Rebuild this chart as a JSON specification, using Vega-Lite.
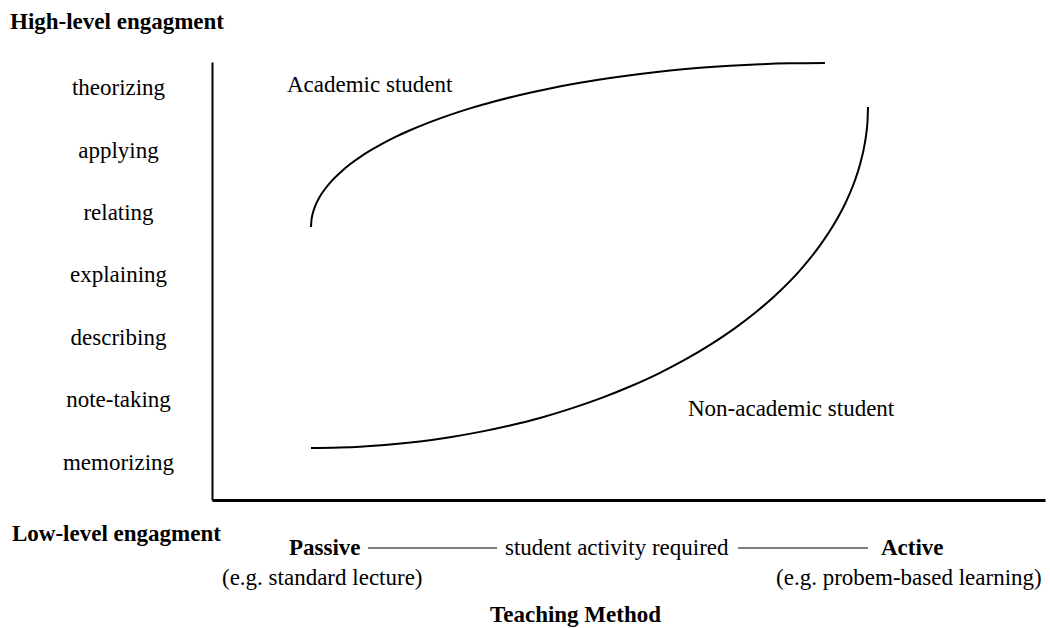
{
  "$schema": "https://vega.github.io/schema/vega-lite/v6.json",
  "width": 833,
  "height": 438,
  "autosize": {"type": "none"},
  "padding": {"left": 212, "top": 62, "right": 5, "bottom": 128},
  "background": "white",
  "config": {"view": {"stroke": null}, "font": "Liberation Serif"},
  "datasets": {
    "curves": [
      {"student": "Academic", "activity": 11.885, "engagement": 4.770},
      {"student": "Academic", "activity": 11.945, "engagement": 4.886},
      {"student": "Academic", "activity": 12.005, "engagement": 4.934},
      {"student": "Academic", "activity": 12.125, "engagement": 5.002},
      {"student": "Academic", "activity": 12.365, "engagement": 5.098},
      {"student": "Academic", "activity": 12.725, "engagement": 5.203},
      {"student": "Academic", "activity": 13.085, "engagement": 5.287},
      {"student": "Academic", "activity": 13.565, "engagement": 5.380},
      {"student": "Academic", "activity": 14.166, "engagement": 5.479},
      {"student": "Academic", "activity": 14.766, "engagement": 5.564},
      {"student": "Academic", "activity": 15.606, "engagement": 5.670},
      {"student": "Academic", "activity": 16.567, "engagement": 5.776},
      {"student": "Academic", "activity": 17.767, "engagement": 5.891},
      {"student": "Academic", "activity": 18.968, "engagement": 5.994},
      {"student": "Academic", "activity": 20.408, "engagement": 6.104},
      {"student": "Academic", "activity": 21.969, "engagement": 6.211},
      {"student": "Academic", "activity": 23.770, "engagement": 6.322},
      {"student": "Academic", "activity": 26.170, "engagement": 6.453},
      {"student": "Academic", "activity": 28.571, "engagement": 6.569},
      {"student": "Academic", "activity": 30.972, "engagement": 6.673},
      {"student": "Academic", "activity": 33.974, "engagement": 6.787},
      {"student": "Academic", "activity": 36.975, "engagement": 6.888},
      {"student": "Academic", "activity": 40.576, "engagement": 6.993},
      {"student": "Academic", "activity": 44.178, "engagement": 7.083},
      {"student": "Academic", "activity": 47.779, "engagement": 7.160},
      {"student": "Academic", "activity": 51.381, "engagement": 7.225},
      {"student": "Academic", "activity": 54.982, "engagement": 7.279},
      {"student": "Academic", "activity": 58.583, "engagement": 7.323},
      {"student": "Academic", "activity": 62.185, "engagement": 7.356},
      {"student": "Academic", "activity": 65.786, "engagement": 7.380},
      {"student": "Academic", "activity": 69.388, "engagement": 7.395},
      {"student": "Academic", "activity": 73.589, "engagement": 7.401},
      {"student": "Non-academic", "activity": 11.885, "engagement": 1.225},
      {"student": "Non-academic", "activity": 17.767, "engagement": 1.245},
      {"student": "Non-academic", "activity": 21.369, "engagement": 1.280},
      {"student": "Non-academic", "activity": 24.970, "engagement": 1.330},
      {"student": "Non-academic", "activity": 28.571, "engagement": 1.398},
      {"student": "Non-academic", "activity": 32.173, "engagement": 1.483},
      {"student": "Non-academic", "activity": 35.774, "engagement": 1.586},
      {"student": "Non-academic", "activity": 39.376, "engagement": 1.707},
      {"student": "Non-academic", "activity": 42.977, "engagement": 1.852},
      {"student": "Non-academic", "activity": 46.939, "engagement": 2.036},
      {"student": "Non-academic", "activity": 50.180, "engagement": 2.211},
      {"student": "Non-academic", "activity": 53.782, "engagement": 2.431},
      {"student": "Non-academic", "activity": 56.783, "engagement": 2.641},
      {"student": "Non-academic", "activity": 59.784, "engagement": 2.879},
      {"student": "Non-academic", "activity": 62.785, "engagement": 3.148},
      {"student": "Non-academic", "activity": 65.426, "engagement": 3.418},
      {"student": "Non-academic", "activity": 68.187, "engagement": 3.744},
      {"student": "Non-academic", "activity": 70.588, "engagement": 4.075},
      {"student": "Non-academic", "activity": 72.989, "engagement": 4.474},
      {"student": "Non-academic", "activity": 74.790, "engagement": 4.841},
      {"student": "Non-academic", "activity": 75.990, "engagement": 5.139},
      {"student": "Non-academic", "activity": 76.591, "engagement": 5.316},
      {"student": "Non-academic", "activity": 77.191, "engagement": 5.520},
      {"student": "Non-academic", "activity": 77.791, "engagement": 5.771},
      {"student": "Non-academic", "activity": 78.391, "engagement": 6.127},
      {"student": "Non-academic", "activity": 78.511, "engagement": 6.232},
      {"student": "Non-academic", "activity": 78.631, "engagement": 6.368},
      {"student": "Non-academic", "activity": 78.691, "engagement": 6.463},
      {"student": "Non-academic", "activity": 78.751, "engagement": 6.695}
    ],
    "notes": [
      {"label": "Academic student", "role": "note", "activity": 9.00, "engagement": 7.048},
      {"label": "Non-academic student", "role": "note", "activity": 57.14, "engagement": 1.850},
      {"label": "student activity required", "role": "note", "activity": 35.17, "engagement": -0.380},
      {"label": "(e.g. standard lecture)", "role": "note", "activity": 1.20, "engagement": -0.861},
      {"label": "(e.g. probem-based learning)", "role": "note", "activity": 67.71, "engagement": -0.861},
      {"label": "High-level engagment", "role": "heading", "activity": -24.25, "engagement": 8.059},
      {"label": "Low-level engagment", "role": "heading", "activity": -24.01, "engagement": -0.155},
      {"label": "Passive", "role": "heading", "activity": 9.24, "engagement": -0.380},
      {"label": "Active", "role": "heading", "activity": 80.31, "engagement": -0.380}
    ],
    "links": [
      {"activity": 18.73, "activity_end": 34.21, "engagement": -0.380},
      {"activity": 63.15, "activity_end": 78.75, "engagement": -0.380}
    ]
  },
  "layer": [
    {
      "data": {"name": "curves"},
      "mark": {"type": "line", "interpolate": "monotone", "strokeWidth": 2, "color": "black"},
      "encoding": {
        "x": {
          "field": "activity", "type": "quantitative",
          "scale": {"domain": [0, 100], "nice": false, "zero": false},
          "axis": {
            "title": "Teaching Method", "titleFont": "Liberation Serif", "titleFontSize": 23,
            "titleFontWeight": "bold", "titleColor": "black", "titleX": 363, "titleY": 114,
            "titleAlign": "center", "titleBaseline": "middle",
            "domain": true, "domainColor": "black", "domainWidth": 3,
            "ticks": false, "labels": false, "grid": false
          }
        },
        "y": {
          "field": "engagement", "type": "quantitative",
          "scale": {"domain": [0.3904, 7.417], "nice": false, "zero": false},
          "axis": {
            "title": null, "values": [1, 2, 3, 4, 5, 6, 7],
            "labelExpr": "['', 'memorizing', 'note-taking', 'describing', 'explaining', 'relating', 'applying', 'theorizing'][datum.value]",
            "labelFont": "Liberation Serif", "labelFontSize": 23, "labelColor": "black",
            "labelAlign": "center", "labelBaseline": "middle", "labelPadding": 94,
            "ticks": false, "tickSize": 0, "grid": false,
            "domain": true, "domainColor": "black", "domainWidth": 2
          }
        },
        "detail": {"field": "student", "type": "nominal"}
      }
    },
    {
      "data": {"name": "links"},
      "mark": {"type": "rule", "color": "black", "strokeWidth": 1},
      "encoding": {
        "x": {"field": "activity", "type": "quantitative"},
        "x2": {"field": "activity_end"},
        "y": {"field": "engagement", "type": "quantitative"}
      }
    },
    {
      "data": {"name": "notes"},
      "transform": [{"filter": "datum.role === 'note'"}],
      "mark": {"type": "text", "align": "left", "baseline": "middle", "font": "Liberation Serif", "fontSize": 23, "color": "black"},
      "encoding": {
        "x": {"field": "activity", "type": "quantitative"},
        "y": {"field": "engagement", "type": "quantitative"},
        "text": {"field": "label"}
      }
    },
    {
      "data": {"name": "notes"},
      "transform": [{"filter": "datum.role === 'heading'"}],
      "mark": {"type": "text", "align": "left", "baseline": "middle", "font": "Liberation Serif", "fontSize": 23, "fontWeight": "bold", "color": "black"},
      "encoding": {
        "x": {"field": "activity", "type": "quantitative"},
        "y": {"field": "engagement", "type": "quantitative"},
        "text": {"field": "label"}
      }
    }
  ]
}
